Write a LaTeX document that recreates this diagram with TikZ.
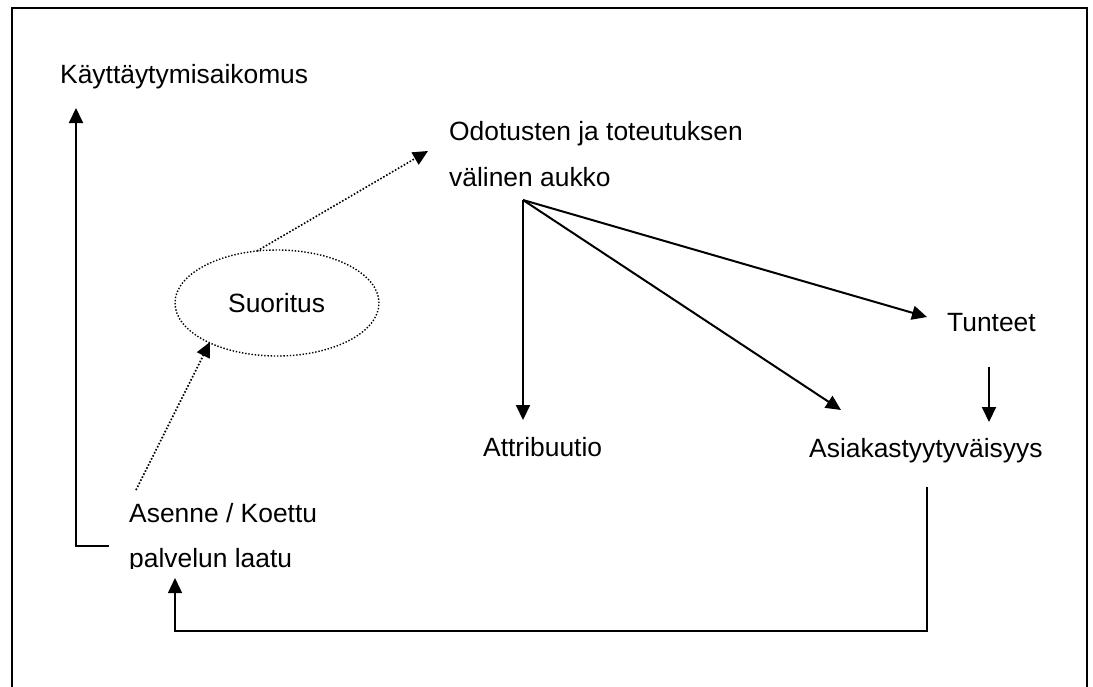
\documentclass[tikz,border=0pt]{standalone}
\usepackage{fontspec}
\setmainfont{Liberation Sans}
\usetikzlibrary{arrows.meta,shapes.geometric}
\begin{document}
\begin{tikzpicture}[x=1pt,y=-1pt,
  lbl/.style={anchor=base west,inner sep=0pt,font=\fontsize{26.4}{30}\selectfont},
  solidarrow/.style={line width=2pt,-{Triangle[length=15pt,width=14pt]}},
  dotarrow/.style={line width=1.6pt,dash pattern=on 1.6pt off 1.8pt,-{Triangle[length=15pt,width=14pt]}},
  frame/.style={line width=2pt}]
\useasboundingbox (0,0) rectangle (1093,686);
\draw[frame] (12,690) -- (12,8) -- (1087,8) -- (1087,690);
% labels
\node[lbl] (kayt) at (60,83) {Käyttäytymisaikomus};
\node[lbl] (odo1) at (449,140) {Odotusten ja toteutuksen};
\node[lbl] (odo2) at (449,186) {välinen aukko};
\node[draw,ellipse,line width=1.4pt,dash pattern=on 1.4pt off 1.8pt,minimum width=204pt,minimum height=106pt,inner sep=0pt] (suor) at (277,303) {};
\node[lbl] (suortxt) at (228,312) {Suoritus};
\node[lbl] (tunt) at (947,331) {Tunteet};
\node[lbl] (attr) at (483,456) {Attribuutio};
\node[lbl] (asiak) at (809,457) {Asiakastyytyväisyys};
\node[lbl] (ase1) at (129,522) {Asenne / Koettu};
\begin{scope}
\clip (0,0) rectangle (1093,568);
\node[lbl] (ase2) at (129,567) {palvelun laatu};
\end{scope}
% connector coordinates
\coordinate (branch) at (523,200);
\coordinate (kaytin) at (76,108);
\coordinate (aseleft) at (109,546);
\coordinate (odoin) at (428,151);
\coordinate (suortop) at (257,251);
\coordinate (suorin) at (210,342);
\coordinate (asetop) at (136,490);
\coordinate (attrin) at (523,420);
\coordinate (asiakin) at (841,410);
\coordinate (tuntin) at (927,317);
\coordinate (tuntout) at (989,367);
\coordinate (tuntdown) at (989,422);
\coordinate (asiakout) at (927,487);
\coordinate (asebottom) at (175,578);
% connectors
\draw[solidarrow] (aseleft) -- (76,546) -- (kaytin);
\draw[dotarrow] (suortop) -- (odoin);
\draw[dotarrow] (asetop) -- (suorin);
\draw[solidarrow] (branch) -- (attrin);
\draw[solidarrow] (branch) -- (asiakin);
\draw[solidarrow] (branch) -- (tuntin);
\draw[solidarrow] (tuntout) -- (tuntdown);
\draw[line width=1.4pt,-{Triangle[length=15pt,width=14pt]}] (asiakout) -- (927,631) -- (175,631) -- (asebottom);
\end{tikzpicture}
\end{document}
